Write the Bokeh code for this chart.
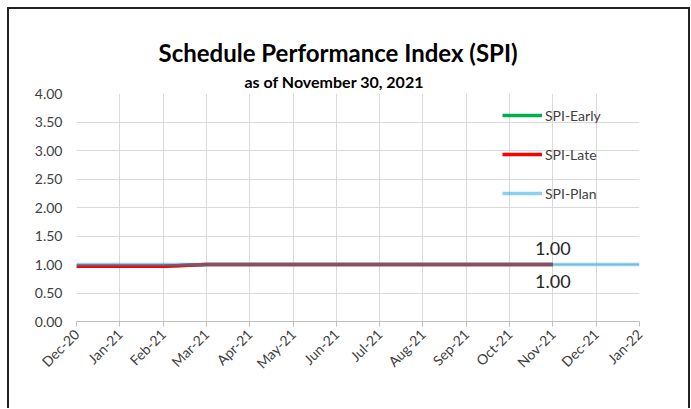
from bokeh.plotting import figure
from bokeh.models import (ColumnDataSource, FixedTicker, Title, Legend, LegendItem,
                          LabelSet, NumeralTickFormatter, Range1d)
from bokeh.core.properties import value
from bokeh.embed import file_html
from bokeh.resources import INLINE
from math import pi

months = ["Dec-20", "Jan-21", "Feb-21", "Mar-21", "Apr-21", "May-21", "Jun-21",
          "Jul-21", "Aug-21", "Sep-21", "Oct-21", "Nov-21", "Dec-21", "Jan-22"]
spi_plan = [1.00, 1.00, 1.00, 1.00, 1.00, 1.00, 1.00, 1.00, 1.00, 1.00, 1.00, 1.00, 1.00, 1.00]
spi_late = [0.97, 0.97, 0.97, 1.00, 1.00, 1.00, 1.00, 1.00, 1.00, 1.00, 1.00, 1.00]
spi_early = [0.97, 0.97, 0.97, 1.00, 1.00, 1.00, 1.00, 1.00, 1.00, 1.00, 1.00, 1.00]
y_ticks = [0.0, 0.5, 1.0, 1.5, 2.0, 2.5, 3.0, 3.5, 4.0]

FONT = "Lato"
TXT = "#404040"

p = figure(frame_width=563, frame_height=228, output_backend="svg", toolbar_location=None,
           x_range=Range1d(0, len(months) - 1), y_range=Range1d(0, 4),
           min_border_left=67, min_border_right=49, min_border_bottom=87, min_border_top=84)
p.styles = {"border-left": "2px solid #222", "border-top": "2px solid #222",
            "border-right": "2px solid #222", "margin-left": "7px", "margin-top": "7px"}
p.outline_line_color = None
p.background_fill_color = "white"
p.border_fill_color = "white"

xi = list(range(len(months)))
r_early = p.line(xi[:len(spi_early)], spi_early, line_color="#00B050", line_width=3.5)
r_late = p.line(xi[:len(spi_late)], spi_late, line_color="#FF0000", line_width=3.5)
r_plan = p.line(xi, spi_plan, line_color="#0AA0DF", line_alpha=0.47, line_width=3.5)

# data labels at last actual month
last = len(spi_late) - 1
lab = ColumnDataSource(dict(x=[last, last], y=[spi_plan[last], spi_late[last]],
                            text=[f"{spi_plan[last]:.2f}", f"{spi_late[last]:.2f}"],
                            yo=[16, -17]))
p.add_layout(LabelSet(source=lab, x="x", y="y", text="text", y_offset="yo",
                      text_align="center", text_baseline="middle",
                      text_font=value(FONT), text_font_size="18px", text_color="#262626"))

# axes
p.xaxis.ticker = FixedTicker(ticks=xi)
p.xaxis.major_label_overrides = {i: m for i, m in enumerate(months)}
p.xaxis.major_label_orientation = pi / 4
p.xaxis.major_label_text_font = FONT
p.xaxis.major_label_text_font_size = "14px"
p.xaxis.major_label_text_color = TXT
p.xaxis.axis_line_color = "#BFBFBF"
p.xaxis.major_tick_line_color = "#BFBFBF"
p.xaxis.major_tick_out = 5
p.xaxis.major_tick_in = 0
p.xaxis.minor_tick_line_color = None

p.yaxis.ticker = FixedTicker(ticks=y_ticks)
p.yaxis.formatter = NumeralTickFormatter(format="0.00")
p.yaxis.major_label_text_font = FONT
p.yaxis.major_label_text_font_size = "14px"
p.yaxis.major_label_text_color = TXT
p.yaxis.axis_line_color = None
p.yaxis.major_tick_line_color = None
p.yaxis.minor_tick_line_color = None
p.yaxis.major_label_standoff = 8

p.xgrid.grid_line_color = "#D9D9D9"
p.ygrid.grid_line_color = "#D9D9D9"

# titles
p.add_layout(Title(text="as of November 30, 2021", align="left", text_font=FONT,
                   text_font_size="16px", text_font_style="bold", text_color="#000000",
                   offset=168, standoff=6), "above")
p.add_layout(Title(text="Schedule Performance Index (SPI)", align="left", text_font=FONT,
                   text_font_size="24px", text_font_style="bold", text_color="#000000",
                   offset=82, standoff=0), "above")

legend = Legend(items=[LegendItem(label="SPI-Early", renderers=[r_early]),
                       LegendItem(label="SPI-Late", renderers=[r_late]),
                       LegendItem(label="SPI-Plan", renderers=[r_plan])],
                location=(426, 118), orientation="vertical")
legend.padding = 0
legend.margin = 0
legend.spacing = 19
legend.glyph_width = 40
legend.glyph_height = 20
legend.label_height = 20
legend.label_standoff = 3
legend.label_text_font = FONT
legend.label_text_font_size = "14px"
legend.label_text_color = TXT
legend.border_line_color = None
legend.background_fill_alpha = 0
p.add_layout(legend, "center")

open("out.html", "w").write(file_html(p, INLINE))
